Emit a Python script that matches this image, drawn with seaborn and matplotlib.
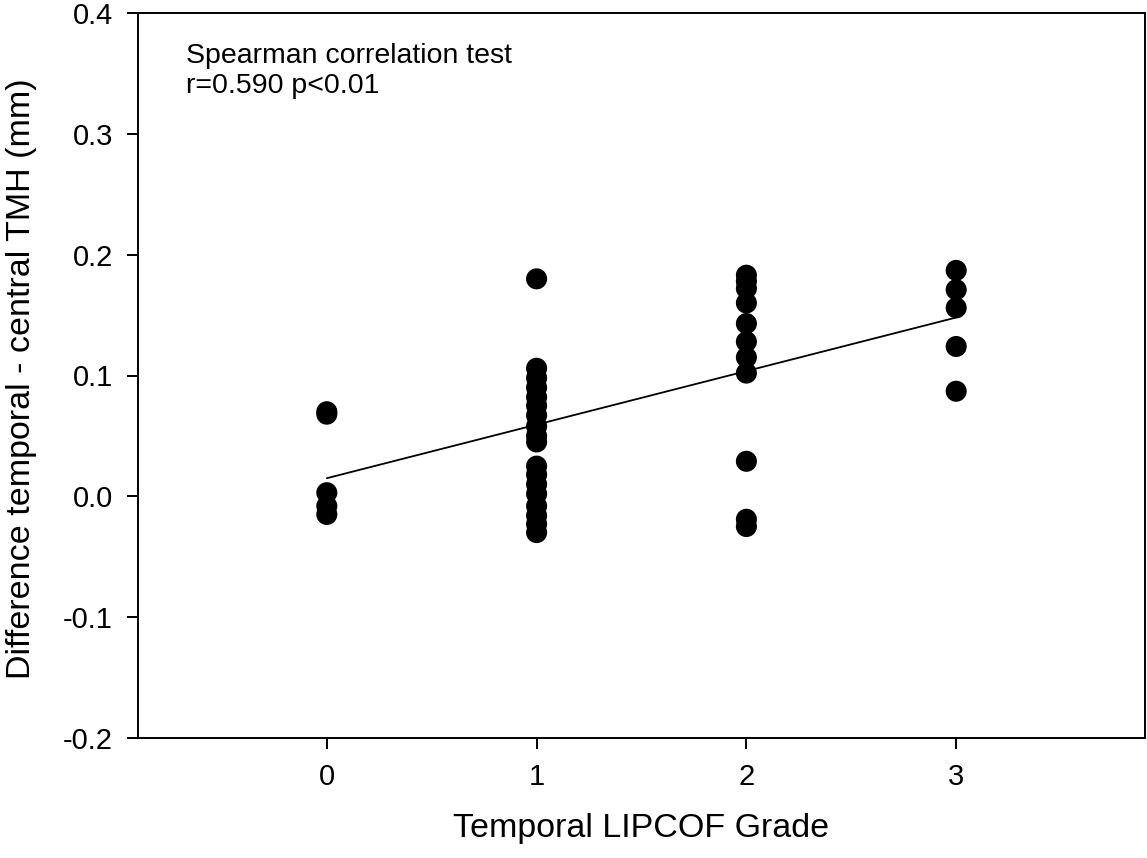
import numpy as np
import pandas as pd
import matplotlib
matplotlib.use("Agg")
import matplotlib.pyplot as plt
import seaborn as sns

# ---- data ----
grade0 = [0.070, 0.068, 0.003, -0.008, -0.015]
grade1 = [0.180, 0.106, 0.098, 0.090, 0.082, 0.075, 0.067, 0.058, 0.050, 0.045,
          0.025, 0.018, 0.010, 0.002, -0.008, -0.016, -0.023, -0.030]
grade2 = [0.183, 0.178, 0.172, 0.160, 0.143, 0.128, 0.115, 0.102, 0.029, -0.019, -0.025]
grade3 = [0.187, 0.171, 0.156, 0.124, 0.087]
fit_x = [0, 3]
fit_y = [0.015, 0.148]
x_ticks = [0, 1, 2, 3]
y_ticks = [-0.2, -0.1, 0.0, 0.1, 0.2, 0.3, 0.4]
y_tick_labels = ["-0.2", "-0.1", "0.0", "0.1", "0.2", "0.3", "0.4"]
annot_lines = ["Spearman correlation test", "r=0.590 p<0.01"]
x_label = "Temporal LIPCOF Grade"
y_label = "Difference temporal - central TMH (mm)"

groups = [grade0, grade1, grade2, grade3]
df = pd.DataFrame({
    "grade": np.concatenate([[g] * len(v) for g, v in zip(x_ticks, groups)]),
    "diff": np.concatenate(groups),
})
fit_df = pd.DataFrame({"grade": fit_x, "diff": fit_y})

sns.set_theme(style="ticks")
plt.rcParams["font.family"] = ["Liberation Sans", "DejaVu Sans"]

fig = plt.figure(figsize=(11.47, 8.58), dpi=100)
ax = fig.add_axes([138 / 1147, 1 - 738 / 858, (1145 - 138) / 1147, (738 - 13) / 858])

sns.scatterplot(data=df, x="grade", y="diff", ax=ax, color="black", s=230,
                edgecolor="none", linewidth=0, zorder=3)
sns.lineplot(data=fit_df, x="grade", y="diff", ax=ax, color="black", lw=1.3,
             zorder=2)

ax.set_xlim(-0.9, 3.9)
ax.set_ylim(-0.2, 0.4)
ax.set_xticks(x_ticks)
ax.set_xticklabels([str(t) for t in x_ticks])
ax.set_yticks(y_ticks)
ax.set_yticklabels(y_tick_labels)
ax.tick_params(axis="both", direction="out", length=8, width=1.4, labelsize=21,
               colors="black", pad=10)
for sp in ax.spines.values():
    sp.set_visible(True)
    sp.set_linewidth(1.4)
    sp.set_color("black")

ax.set_xlabel(x_label, fontsize=24.5, labelpad=16, color="black")
ax.set_ylabel(y_label, fontsize=24.5, color="black")
ax.yaxis.set_label_coords(-0.100, 0.495)

ax.text(0.048, 0.958, "\n".join(annot_lines), transform=ax.transAxes, fontsize=20.5,
        va="top", ha="left", linespacing=1.2, color="black")

fig.savefig("out.png", dpi=100)
